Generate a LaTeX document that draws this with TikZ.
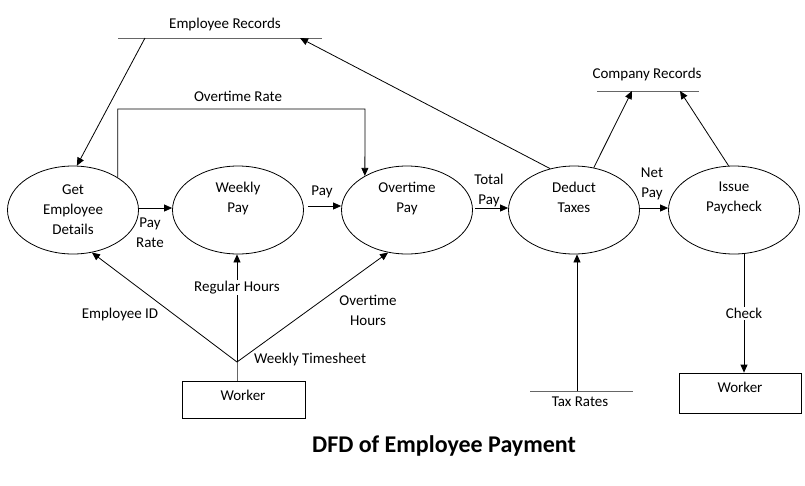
\documentclass[tikz,border=0pt]{standalone}
\usepackage{fontspec}
\setmainfont{Carlito}
\usetikzlibrary{shapes.geometric,arrows.meta}

\tikzset{
  process/.style={draw, ellipse, line width=0.8pt, minimum width=131pt, minimum height=88pt,
    inner sep=0pt, align=center, font=\fontsize{15}{20}\selectfont},
  entity/.style={draw, rectangle, line width=0.8pt, inner sep=0pt},
  lbl/.style={font=\fontsize{15}{20}\selectfont, align=center, inner sep=1pt},
  flow/.style={line width=0.8pt, -{Triangle[length=8pt,width=7pt]}},
  storeline/.style={line width=1pt, black!60},
}

\begin{document}
\begin{tikzpicture}[x=1pt, y=-1pt]
    \useasboundingbox[fill=white] (0,0) rectangle (805,485);

    % Processes
    \node[process] (get) at (73,210) {Get\\Employee\\Details};
    \node[process] (wk) at (238,210) {Weekly\\Pay\\\strut};
    \node[process] (ot) at (407,210) {Overtime\\Pay\\\strut};
    \node[process] (dt) at (574,210) {Deduct\\Taxes\\\strut};
    \node[process] (ip) at (734,210) {Issue\\Paycheck\\\strut};

    % Data stores
    \draw[storeline] (118,38) -- (322,38);
    \node[lbl] (erlbl) at (225,24) {Employee Records};
    \coordinate (erout) at (145,38);
    \coordinate (erin) at (300,38);

    \draw[storeline] (597,91) -- (699,91);
    \node[lbl] (crlbl) at (647,74) {Company Records};
    \coordinate (crin1) at (632,91);
    \coordinate (crin2) at (680,91);

    \draw[storeline] (530,391) -- (633,391);
    \node[lbl] (trlbl) at (580,402) {Tax Rates};
    \coordinate (trout) at (577,391);

    % External entities
    \node[entity, minimum width=123pt, minimum height=37pt] (wl) at (243.5,399.5) {};
    \node[lbl] at (243,395) {Worker};
    \node[entity, minimum width=122pt, minimum height=40pt] (wr) at (740,393) {};
    \node[lbl] at (740,387) {Worker};

    % Flows between processes
    \draw[flow] (erout) -- (get.85);
    \coordinate (orc) at (365,109);
    \draw[flow] (get.36) |- (orc) -- (ot.141);
    \node[lbl] (orlbl) at (238,96) {Overtime Rate};

    \draw[flow] ([yshift=2pt]get.east) -- ([yshift=2pt]wk.west);
    \node[lbl] (prlbl) at (150,233) {Pay\\Rate};
    \draw[flow] ([yshift=4pt,xshift=4pt]wk.east) -- ([yshift=4pt]ot.west);
    \node[lbl] (paylbl) at (322,192) {Pay};
    \draw[flow] ([yshift=2pt,xshift=2pt]ot.east) -- ([yshift=2pt]dt.west);
    \node[lbl] (tplbl) at (489,190) {Total\\Pay};
    \draw[flow] ([yshift=2pt]dt.east) -- ([yshift=2pt]ip.west);
    \node[lbl] (nplbl) at (652,184) {Net\\Pay};

    % Flows to stores
    \draw[flow] (dt.120) -- (erin);
    \draw[flow] (dt.65) -- (crin1);
    \draw[flow] (ip.97) -- (crin2);
    \draw[flow] (trout) -- (trout |- dt.south);

    % Weekly timesheet
    \coordinate (ts) at (237,362);
    \draw[line width=0.8pt, black!60] (ts |- wl.north) -- (ts);
    \draw[flow] (ts) -- (get.294);
    \draw[flow] (ts) -- node[lbl, fill=white, pos=0.69] (rhlbl) {Regular Hours} (ts |- wk.south);
    \draw[flow] (ts) -- (ot.246);
    \node[lbl] (eidlbl) at (120,314) {Employee ID};
    \node[lbl] (ohlbl) at (368,310) {Overtime\\Hours};
    \node[lbl] (tslbl) at (310,359) {Weekly Timesheet};

    % Check
    \coordinate (ck) at (744,254);
    \draw[flow] (ck) -- node[lbl, fill=white] (cklbl) {Check} (ck |- wr.north);

    % Title
    \node[font=\fontsize{24}{28}\selectfont\bfseries] (title) at (444,446) {DFD of Employee Payment};
\end{tikzpicture}
\end{document}
